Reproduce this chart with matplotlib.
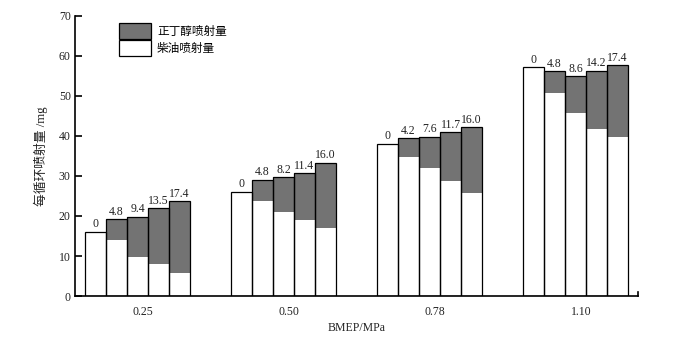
import numpy as np
import matplotlib
matplotlib.use("Agg")
import matplotlib.pyplot as plt
from matplotlib.patches import Patch

plt.rcParams['font.family'] = ['Liberation Serif', 'Noto Sans CJK SC']

# data
bmep = ['0.25', '0.50', '0.78', '1.10']
diesel = [
    [16.0, 14.0, 9.8, 7.9, 5.8],
    [26.0, 23.8, 20.9, 18.9, 16.9],
    [38.0, 34.8, 31.9, 28.8, 25.8],
    [57.2, 50.8, 45.8, 41.8, 39.8],
]
butanol = [
    [0.0, 5.2, 10.0, 14.0, 17.9],
    [0.0, 5.2, 8.8, 11.8, 16.4],
    [0.0, 4.6, 7.9, 12.1, 16.4],
    [0.0, 5.4, 9.1, 14.5, 17.9],
]
ratio_labels = [
    ['0', '4.8', '9.4', '13.5', '17.4'],
    ['0', '4.8', '8.2', '11.4', '16.0'],
    ['0', '4.2', '7.6', '11.7', '16.0'],
    ['0', '4.8', '8.6', '14.2', '17.4'],
]

fig = plt.figure(figsize=(6.73, 3.39), dpi=100)
ax = fig.add_axes([0.1114, 0.1268, 0.8366, 0.8262])

width = 0.144
offsets = (np.arange(5) - 2) * width
gray = '#737373'
txt = '#222222'

for g in range(len(bmep)):
    xs = g + offsets
    d = np.array(diesel[g])
    b = np.array(butanol[g])
    ax.bar(xs, d, width, color='white', edgecolor='none')
    ax.bar(xs, b, width, bottom=d, color=gray, edgecolor='none')
    # outline of the total bar
    ax.bar(xs, d + b, width, fill=False, edgecolor='black', linewidth=0.9)
    for x, tot, lab in zip(xs, d + b, ratio_labels[g]):
        ax.text(x, tot + 0.4, lab, ha='center', va='bottom', fontsize=8.5, color=txt)

ax.set_xlim(-0.428, 3.428)
ax.set_ylim(0, 70)
ax.set_yticks(np.arange(0, 71, 10))
ax.set_xticks(np.arange(len(bmep)) + 0.04)
ax.set_xticklabels(bmep)
ax.tick_params(axis='x', length=0, pad=7, labelsize=8.5, labelcolor=txt)
ax.tick_params(axis='y', direction='in', length=5, width=1.2, labelsize=8.5, labelcolor=txt, pad=3)

ax.spines['top'].set_visible(False)
ax.spines['right'].set_bounds(0, 1)
for s in ['left', 'bottom', 'right']:
    ax.spines[s].set_linewidth(1.2)

ax.set_xlabel('BMEP/MPa', fontsize=8.5, color=txt, labelpad=3)
ax.set_ylabel('每循环喷射量 /mg', fontsize=9.2, color=txt, labelpad=8)

handles = [Patch(facecolor=gray, edgecolor='black', linewidth=0.9),
           Patch(facecolor='white', edgecolor='black', linewidth=0.9)]
ax.legend(handles, ['正丁醇喷射量', '柴油喷射量'], loc='upper left',
          bbox_to_anchor=(0.065, 1.0), frameon=False, fontsize=8.4,
          handlelength=2.8, handleheight=1.7, labelspacing=0.15,
          handletextpad=0.5, borderaxespad=0.2)

fig.savefig('out.png', dpi=100)
